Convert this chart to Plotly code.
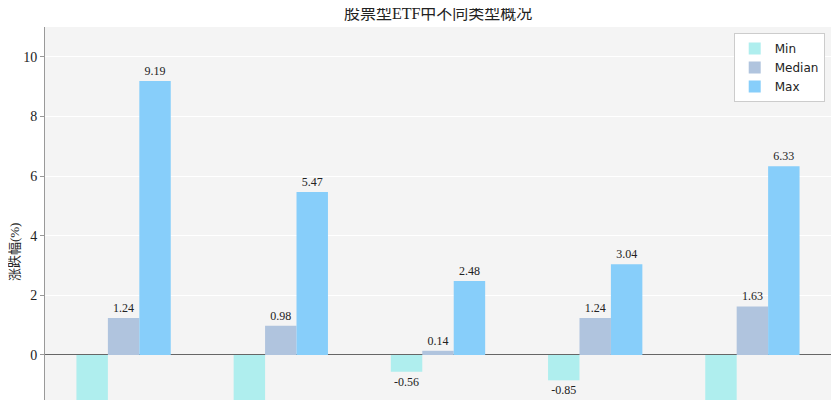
import plotly.graph_objects as go

# ETF types (axis labels fall below the visible crop)
categories = ["规模指数", "行业指数", "策略指数", "风格指数", "主题指数"]
min_vals = [-2.05, -1.92, -0.56, -0.85, -2.38]
median_vals = [1.24, 0.98, 0.14, 1.24, 1.63]
max_vals = [9.19, 5.47, 2.48, 3.04, 6.33]

series = [
    ("Min", min_vals, "#afeeee"),
    ("Median", median_vals, "#b0c4de"),
    ("Max", max_vals, "#87cefa"),
]

serif = "Liberation Serif, Noto Sans CJK SC, serif"

fig = go.Figure()
for name, vals, color in series:
    fig.add_trace(go.Bar(
        name=name, x=categories, y=vals,
        marker=dict(color=color, line=dict(width=0)),
        text=[f"{v:.2f}" for v in vals],
        textposition="outside",
        textfont=dict(family=serif, size=12, color="#222"),
    ))

# page has an 8px body margin, so the figure is a bit smaller than the window
fig.update_layout(
    width=832, height=392,
    margin=dict(l=37, r=9, t=19, b=0, autoexpand=False),
    barmode="group", bargap=0.4, bargroupgap=0,
    plot_bgcolor="#f4f4f4", paper_bgcolor="white",
    title=dict(text="股票型ETF中不同类型概况", x=0.517, xanchor="center",
               y=0.985, yanchor="middle",
               font=dict(family=serif, size=16, color="#222")),
    legend=dict(x=0.992, y=0.984, xanchor="right", yanchor="top",
                bgcolor="white", bordercolor="#cccccc", borderwidth=1,
                font=dict(family="DejaVu Sans", size=12, color="#222"),
                tracegroupgap=0),
    showlegend=True,
)
fig.update_yaxes(
    range=[-1.51, 11], dtick=2, tick0=0, automargin=False,
    showgrid=True, gridcolor="white", gridwidth=1,
    zeroline=True, zerolinecolor="#666", zerolinewidth=1,
    showline=True, linecolor="#999", linewidth=1,
    ticks="outside", ticklen=4, tickcolor="#999",
    tickfont=dict(family=serif, size=14, color="#222"),
)
fig.update_xaxes(showgrid=False, showline=False, ticks="",
                 showticklabels=False, automargin=False)
fig.add_annotation(
    text="涨跌幅(%)", xref="paper", yref="paper", x=-0.038, y=0.397,
    textangle=-90, showarrow=False, xanchor="center", yanchor="middle",
    font=dict(family=serif, size=13, color="#222"),
)

fig.write_html("out.html")
